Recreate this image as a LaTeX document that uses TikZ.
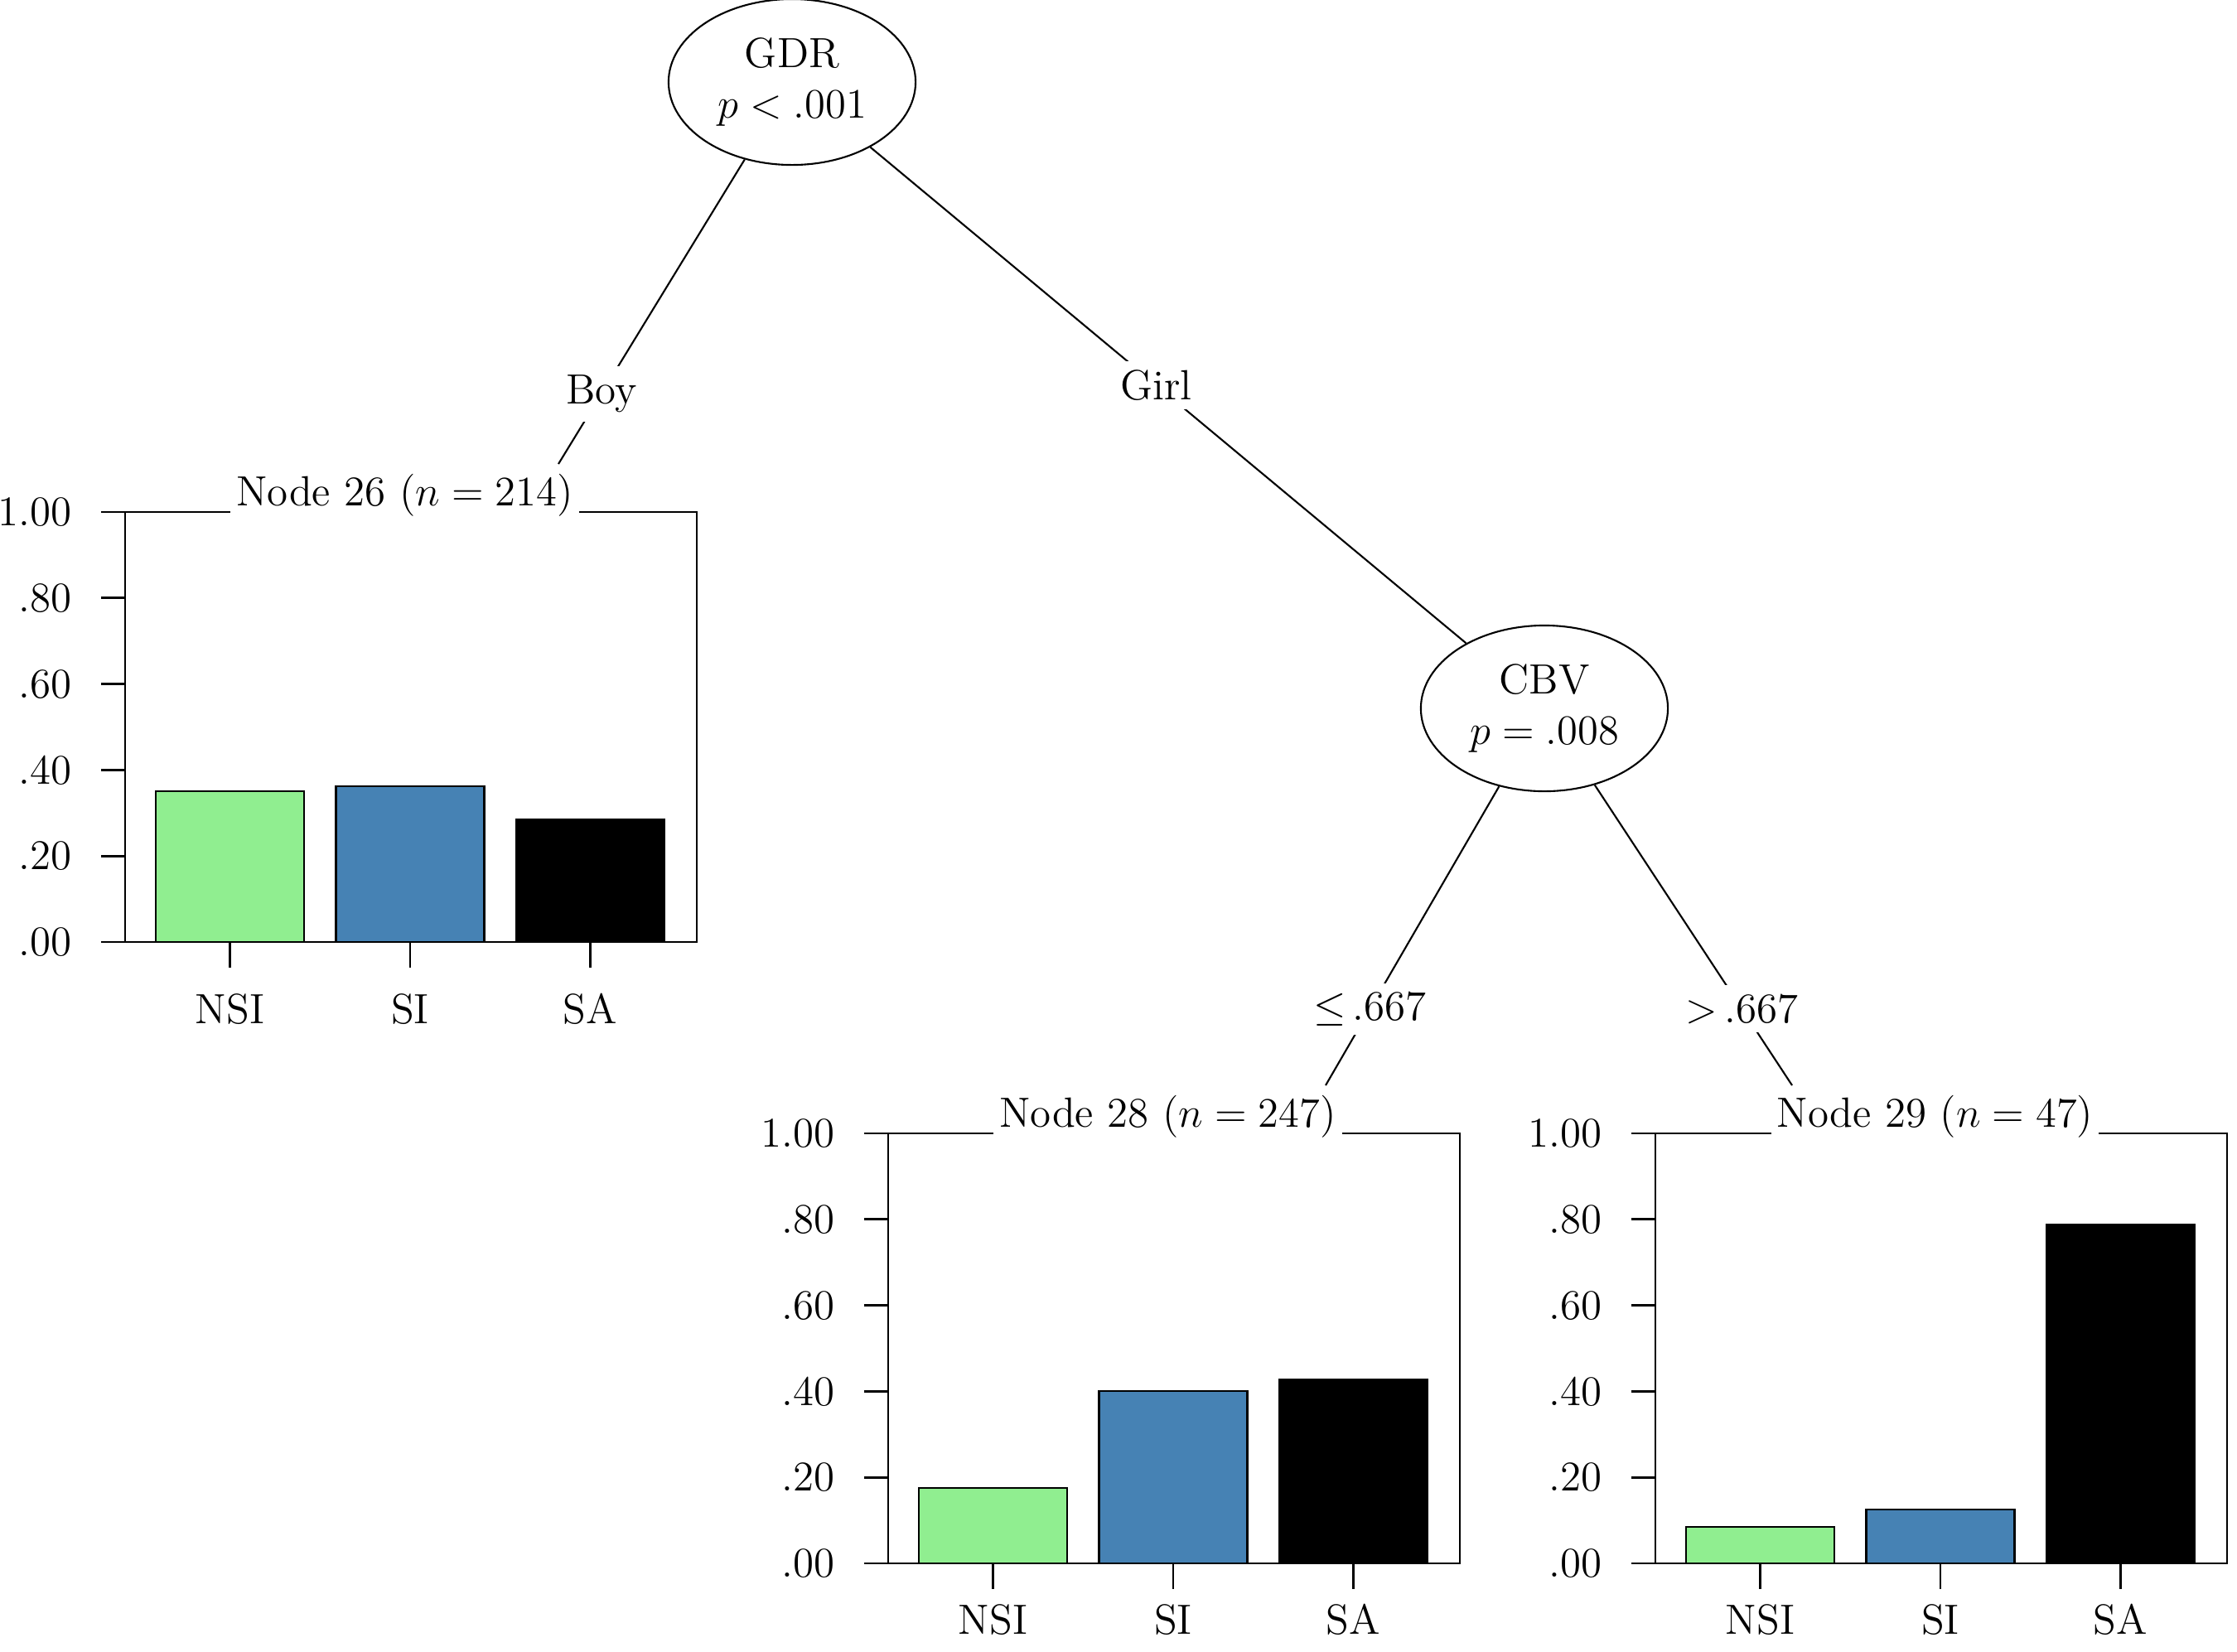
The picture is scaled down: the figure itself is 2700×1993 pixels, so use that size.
\documentclass[tikz,border=0pt]{standalone}
\usetikzlibrary{shapes.geometric}
\definecolor{nsigreen}{HTML}{90EE90}
\definecolor{sisteel}{HTML}{4682B4}
\tikzset{
  split/.style={ellipse, draw, line width=0.6pt, minimum width=2.98cm, minimum height=2cm, align=center, inner sep=0pt},
  edge/.style={line width=0.6pt},
  edgelab/.style={fill=white, inner sep=3pt},
  plottitle/.style={fill=white, inner xsep=2pt, inner ysep=0pt, anchor=base},
  frame/.style={line width=0.8pt},
  bar/.style={draw, line width=0.6pt},
}
% #1 shift, #2 node number, #3 n, #4 #5 #6 bar heights (NSI, SI, SA), #7 category label y
\newcommand{\leafplot}[7]{%
  \begin{scope}[shift={#1}]
    \draw[frame] (0,0) rectangle (690,519);
    \foreach \yv/\ylab in {0/.00,0.2/.20,0.4/.40,0.6/.60,0.8/.80,1/1.00}{
      \draw[frame] (-29,{519*(1-\yv)}) -- (0,{519*(1-\yv)});
      \node[anchor=east] at (-52,{519*(1-\yv)}) {\ylab};
    }
    \draw[bar, fill=nsigreen] (37,519) rectangle (216,{519*(1-#4)});
    \draw[bar, fill=sisteel] (254.5,519) rectangle (433.5,{519*(1-#5)});
    \draw[bar, fill=black] (472,519) rectangle (651,{519*(1-#6)});
    \foreach \xc/\xlab in {126.5/NSI,344/SI,561.5/SA}{
      \draw[edge] (\xc,519) -- (\xc,550);
      \node at (\xc,#7) {\xlab};
    }
    \node[plottitle] (t#2) at (337.5,-8) {Node #2 ($n = #3$)};
  \end{scope}}

\begin{document}
\begin{tikzpicture}[x=0.01cm, y=-0.01cm, font=\fontsize{14.5}{17.5}\selectfont]
  \useasboundingbox (0,0) rectangle (2700,1993);

  % terminal nodes
  \leafplot{(151,618)}{26}{214}{0.351}{0.363}{0.285}{600}
  \leafplot{(1072,1368)}{28}{247}{0.175}{0.400}{0.427}{587}
  \leafplot{(1998,1368)}{29}{47}{0.085}{0.125}{0.788}{587}

  % inner nodes
  \node[split] (gdr) at (956,99) {GDR\\$p < .001$};
  \node[split] (cbv) at (1864,855) {CBV\\$p = .008$};

  % edge ends above the plots
  \coordinate (e26) at (674,560);
  \coordinate (e28) at (1600,1310);
  \coordinate (e29) at (2163,1310);

  \draw[edge] (gdr) -- node[edgelab, pos=0.77] {Boy} (e26);
  \draw[edge] (gdr) -- node[edgelab, pos=0.48] {Girl} (cbv);
  \draw[edge] (cbv) -- node[edgelab, pos=0.745] {$\leq$\,.667} (e28);
  \draw[edge] (cbv) -- node[edgelab, pos=0.745] {$>$\,.667} (e29);
\end{tikzpicture}
\end{document}
